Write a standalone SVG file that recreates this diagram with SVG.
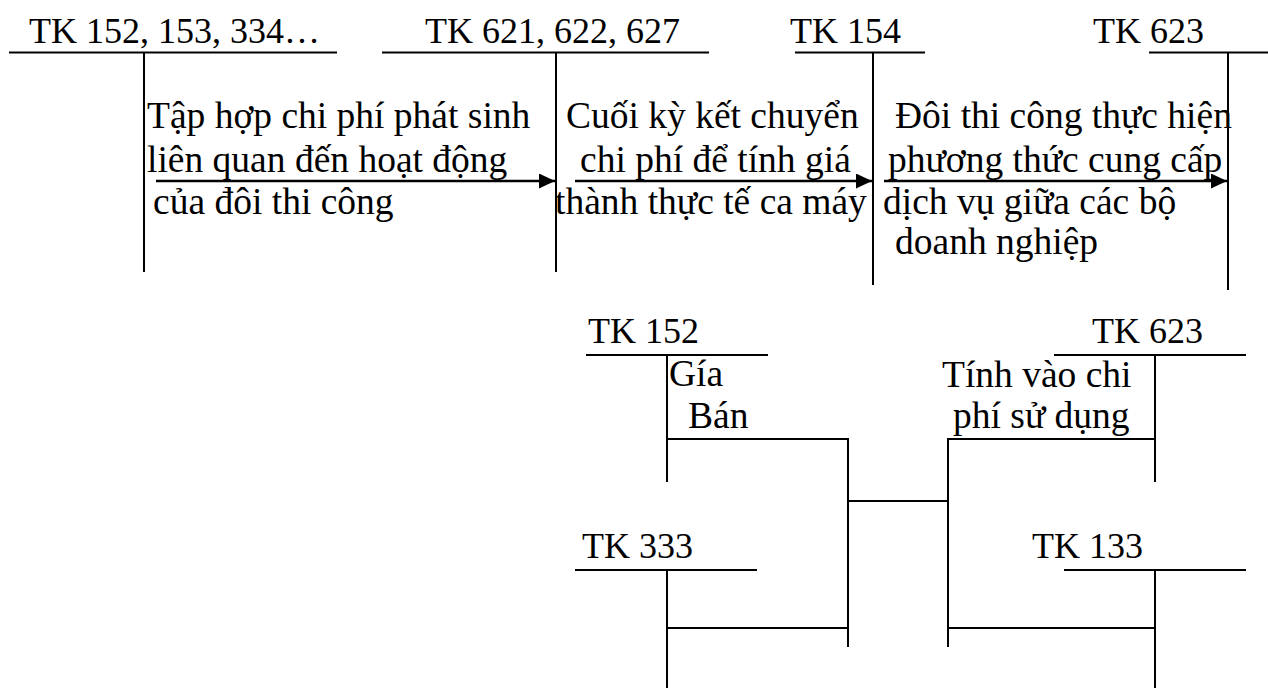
<svg xmlns="http://www.w3.org/2000/svg" width="1268" height="689" viewBox="0 0 1268 689" font-family="'Liberation Serif', serif">
  <style>
    text { font-family: "Liberation Serif", serif; font-size: 37.5px; fill: #000; }
    text.tk { font-size: 36px; }
    line, polyline { stroke: #000; stroke-width: 2; fill: none; }
    .arrow { stroke-width: 2.6; marker-end: url(#head); }
  </style>
  <defs>
    <marker id="head" viewBox="0 0 16 15" refX="16" refY="7.5" markerWidth="16" markerHeight="15" markerUnits="userSpaceOnUse" orient="auto">
      <path d="M0,0 L16,7.5 L0,15 Z" fill="#000"/>
    </marker>
  </defs>

  <!-- T-accounts, top row -->
  <g id="tk-152-153-334">
    <text class="tk" x="29" y="43">TK 152, 153, 334…</text>
    <line x1="9" y1="52.5" x2="337" y2="52.5"/>
    <line x1="144" y1="52.5" x2="144" y2="272"/>
  </g>
  <g id="tk-621-622-627">
    <text class="tk" x="425" y="43">TK 621, 622, 627</text>
    <line x1="382" y1="52.5" x2="709" y2="52.5"/>
    <line x1="556" y1="52.5" x2="556" y2="272"/>
  </g>
  <g id="tk-154">
    <text class="tk" x="790" y="43">TK 154</text>
    <line x1="795" y1="52.5" x2="925" y2="52.5"/>
    <line x1="873" y1="52.5" x2="873" y2="285"/>
  </g>
  <g id="tk-623-top">
    <text class="tk" x="1093" y="43">TK 623</text>
    <line x1="1149" y1="52.5" x2="1268" y2="52.5"/>
    <line x1="1228" y1="52.5" x2="1228" y2="290"/>
  </g>

  <!-- Entry descriptions -->
  <g id="label-1">
    <text x="147" y="128">Tập hợp chi phí phát sinh</text>
    <text x="147" y="172">liên quan đến hoạt động</text>
    <text x="153" y="214">của đôi thi công</text>
  </g>
  <g id="label-2">
    <text x="566" y="128">Cuối kỳ kết chuyển</text>
    <text x="580" y="172">chi phí để tính giá</text>
    <text x="555" y="214">thành thực tế ca máy</text>
  </g>
  <g id="label-3">
    <text x="895" y="128">Đôi thi công thực hiện</text>
    <text x="888" y="172">phương thức cung cấp</text>
    <text x="883" y="214">dịch vụ giữa các bộ</text>
    <text x="895" y="254">doanh nghiệp</text>
  </g>

  <!-- T-accounts, bottom block -->
  <g id="tk-152">
    <text class="tk" x="588" y="343">TK 152</text>
    <line x1="586" y1="355" x2="768" y2="355"/>
    <line x1="667" y1="355" x2="667" y2="482"/>
    <text x="669" y="386">Gía</text>
    <text x="688" y="428">Bán</text>
  </g>
  <g id="tk-333">
    <text class="tk" x="582" y="558">TK 333</text>
    <line x1="575" y1="570" x2="757" y2="570"/>
    <line x1="667" y1="570" x2="667" y2="688"/>
  </g>
  <g id="tk-623-bottom">
    <text class="tk" x="1092" y="343">TK 623</text>
    <line x1="1054" y1="355" x2="1246" y2="355"/>
    <line x1="1155" y1="355" x2="1155" y2="482"/>
    <text x="942" y="387">Tính vào chi</text>
    <text x="953" y="428">phí sử dụng</text>
  </g>
  <g id="tk-133">
    <text class="tk" x="1032" y="558">TK 133</text>
    <line x1="1064" y1="570" x2="1246" y2="570"/>
    <line x1="1155" y1="570" x2="1155" y2="688"/>
  </g>

  <!-- Connectors -->
  <g id="connectors">
    <line class="arrow" x1="156" y1="181" x2="555" y2="181"/>
    <line class="arrow" x1="575" y1="181" x2="872" y2="181"/>
    <line class="arrow" x1="884" y1="181" x2="1227" y2="181"/>

    <polyline points="667,439 848,439 848,647"/>
    <line x1="667" y1="628" x2="848" y2="628"/>
    <line x1="848" y1="501" x2="948" y2="501"/>
    <polyline points="1155,439 948,439 948,647"/>
    <line x1="948" y1="628" x2="1155" y2="628"/>
  </g>
</svg>
